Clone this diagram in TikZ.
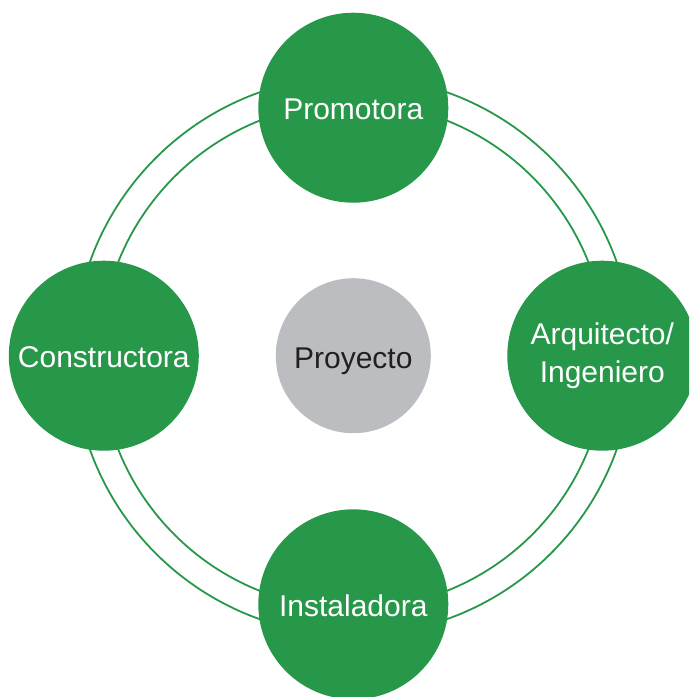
\documentclass[tikz,border=0pt]{standalone}
\usepackage{fontspec}
\setmainfont{Liberation Sans}
\definecolor{ggreen}{HTML}{27984A}
\definecolor{pgray}{HTML}{BCBDC0}
\definecolor{ptext}{HTML}{231F20}
\begin{document}
\begin{tikzpicture}[x=1pt,y=-1pt,
  actor/.style={circle, fill=ggreen, minimum size=190pt, inner sep=0pt,
    text=white, font=\fontsize{30}{37.3}\selectfont, align=center},
  oneline/.style={text height=24pt, text depth=0pt},
  hub/.style={circle, fill=pgray, minimum size=155pt, inner sep=0pt,
    text=ptext, font=\fontsize{30}{36}\selectfont, text height=25pt, text depth=0pt},
  ring/.style={draw=ggreen, line width=1.8pt}]
\useasboundingbox (0,0) rectangle (689,697);
\clip (0,0) rectangle (689,697);
\coordinate (c) at (353.3,355.7);
\draw[ring] (c) circle[radius=279.5pt];
\draw[ring] (c) circle[radius=253pt];
\node[hub] (proj) at (c) {Proyecto};
\node[actor, oneline] (prom) at (353.3,107.7) {Promotora};
\node[actor, oneline] (cons) at (103.8,355.7) {Constructora};
\node[actor, oneline] (inst) at (353.3,604.3) {Instaladora};
\node[actor] (arq) at (602.3,355.7) {Arquitecto/\\Ingeniero};
\end{tikzpicture}
\end{document}
